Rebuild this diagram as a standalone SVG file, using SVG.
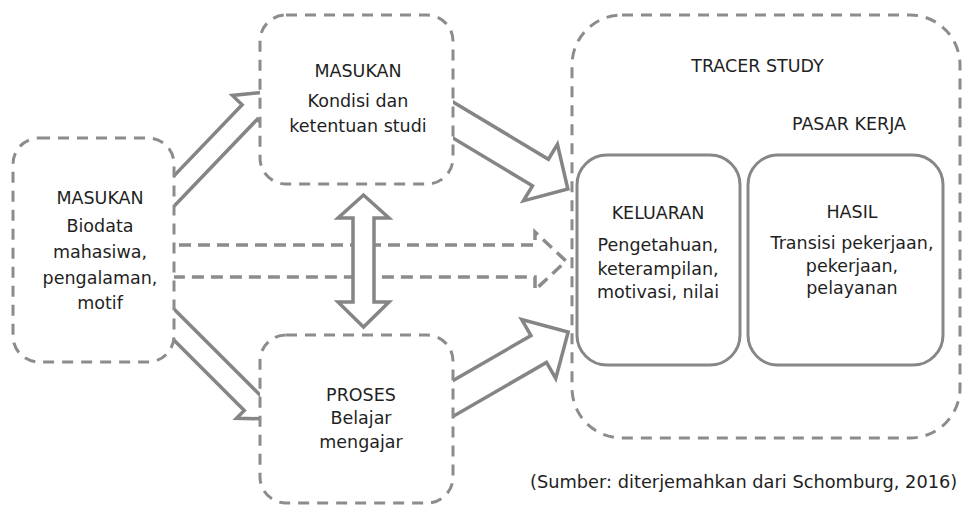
<svg xmlns="http://www.w3.org/2000/svg" width="964" height="506" viewBox="0 0 964 506">
<style>
.dbox{fill:#fff;stroke:#8c8c8c;stroke-width:3;stroke-dasharray:11 8}
.sbox{fill:#fff;stroke:#878787;stroke-width:3}
.blk{fill:#fff;stroke:#858585;stroke-width:3.5;stroke-linejoin:miter}
.dash{fill:none;stroke:#8c8c8c;stroke-width:3.5;stroke-dasharray:12 7}
text{font-family:"DejaVu Sans",Verdana,sans-serif;font-size:17.5px;fill:#1f1f1f;text-anchor:middle}
</style>
<rect width="964" height="506" fill="#fff"/>
<g id="connectors">
  <path class="dash" d="M160 245 H535 V232 L566 261 L535 290 V277 H160"/>
  <polygon class="blk" points="353,218 338,218 363.5,195 389,218 374,218 374,302 389,302 363.5,327 338,302 353,302"/>
  <polygon class="blk" transform="translate(180.5 184.2) rotate(-46.2)" points="-20,-10.5 100,-10.5 100,-24 128,0 100,24 100,10.5 -20,10.5"/>
  <polygon class="blk" transform="translate(175 325.6) rotate(45)" points="-20,-11 109,-11 109,-22 132,0 109,22 109,11 -20,11"/>
  <polygon class="blk" transform="translate(453 120) rotate(31)" points="-20,-15.5 102,-15.5 102,-33 134,0 102,33 102,15.5 -20,15.5"/>
  <polygon class="blk" transform="translate(453 398.5) rotate(-30)" points="-20,-15.5 99,-15.5 99,-34 133,0 99,34 99,15.5 -20,15.5"/>
</g>
<g id="masukan-biodata">
  <rect class="dbox" x="13" y="138" width="161" height="224" rx="26"/>
  <text x="100" y="204">MASUKAN</text>
  <text x="100" y="232">Biodata</text>
  <text x="100" y="258">mahasiwa,</text>
  <text x="100" y="283.5">pengalaman,</text>
  <text x="100" y="309">motif</text>
</g>
<g id="masukan-kondisi">
  <rect class="dbox" x="260" y="15" width="193" height="169" rx="26"/>
  <text x="358" y="77">MASUKAN</text>
  <text x="358" y="107">Kondisi dan</text>
  <text x="358" y="132">ketentuan studi</text>
</g>
<g id="proses">
  <rect class="dbox" x="260" y="335" width="193" height="168" rx="26"/>
  <text x="361" y="401">PROSES</text>
  <text x="361" y="424">Belajar</text>
  <text x="361" y="448">mengajar</text>
</g>
<g id="tracer-study">
  <rect class="dbox" x="572" y="15" width="388" height="423" rx="50"/>
  <text x="757.5" y="72">TRACER STUDY</text>
  <text x="849" y="130">PASAR KERJA</text>
</g>
<g id="keluaran">
  <rect class="sbox" x="577" y="155" width="163" height="210" rx="30"/>
  <text x="658" y="219">KELUARAN</text>
  <text x="658" y="251">Pengetahuan,</text>
  <text x="658" y="275">keterampilan,</text>
  <text x="658" y="298">motivasi, nilai</text>
</g>
<g id="hasil">
  <rect class="sbox" x="748" y="155" width="195" height="210" rx="30"/>
  <text x="852" y="218">HASIL</text>
  <text x="852" y="249">Transisi pekerjaan,</text>
  <text x="852" y="272">pekerjaan,</text>
  <text x="852" y="294">pelayanan</text>
</g>
<text x="530" y="488" style="text-anchor:start;font-size:17.8px">(Sumber: diterjemahkan dari Schomburg, 2016)</text>
</svg>
